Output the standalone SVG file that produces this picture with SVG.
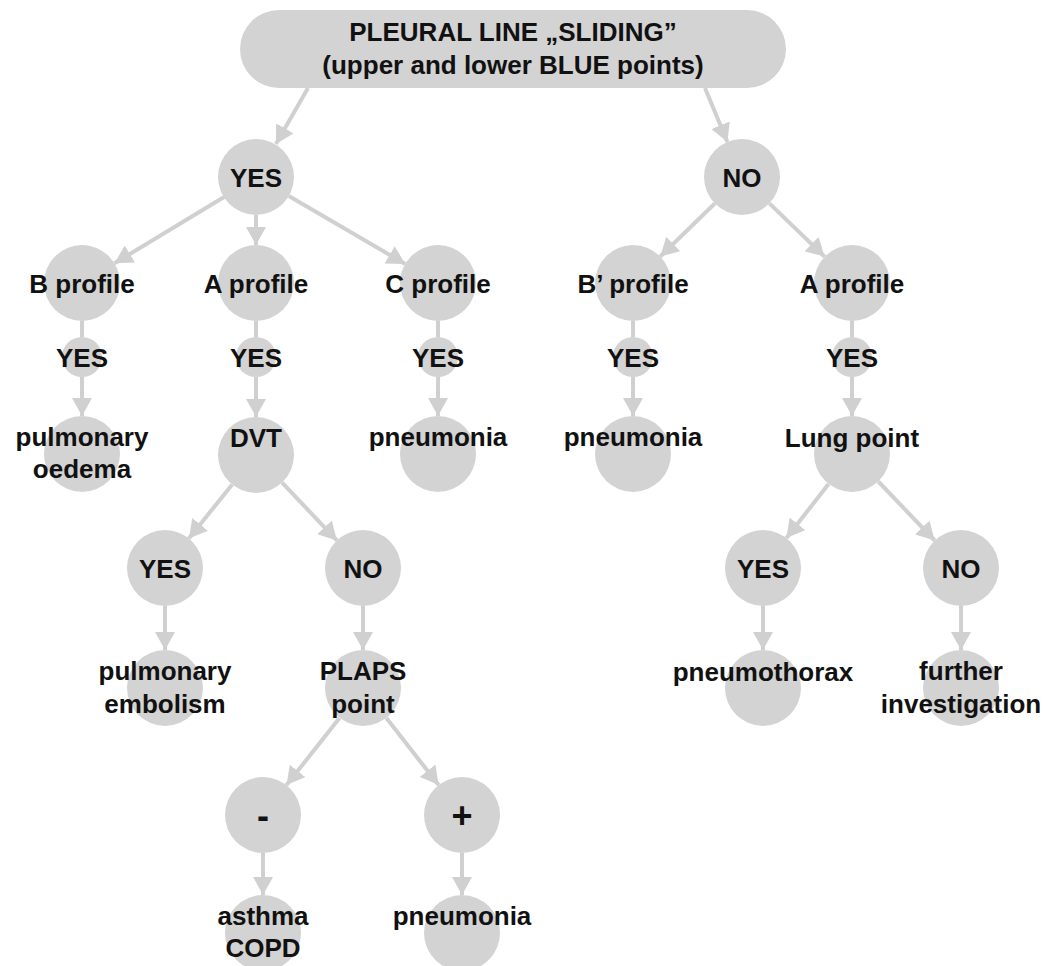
<svg xmlns="http://www.w3.org/2000/svg" width="1043" height="966" viewBox="0 0 1043 966">
<style>
.n{fill:#d3d3d3}
.t{font-family:"Liberation Sans",Arial,sans-serif;font-weight:bold;font-size:26px;fill:#111;text-anchor:middle}
.big{font-size:36px}
.e{stroke:#d0d0d0;stroke-width:4;fill:none}
.a{marker-end:url(#ah)}
</style>
<defs>
<marker id="ah" markerUnits="userSpaceOnUse" markerWidth="20" markerHeight="20" refX="18" refY="10" orient="auto">
<path d="M0,0 L18,10 L0,20 z" fill="#d0d0d0"/>
</marker>
</defs>
<rect width="1043" height="966" fill="#fff"/>
<g id="connectors">
<line class="e a" x1="308" y1="88" x2="275.9" y2="144"/>
<line class="e a" x1="705" y1="88" x2="727.4" y2="141.9"/>
<line class="e a" x1="224.5" y1="196.7" x2="114.5" y2="263.3"/>
<line class="e a" x1="256" y1="215" x2="256" y2="245"/>
<line class="e a" x1="288.8" y1="196.1" x2="405.2" y2="263.9"/>
<line class="e a" x1="714.8" y1="203.5" x2="660.3" y2="256.5"/>
<line class="e a" x1="769.4" y1="203.4" x2="824.6" y2="256.6"/>
<line class="e" x1="82" y1="321" x2="82" y2="337"/>
<line class="e a" x1="82" y1="377" x2="82" y2="416"/>
<line class="e" x1="256" y1="321" x2="256" y2="337"/>
<line class="e a" x1="256" y1="377" x2="256" y2="417"/>
<line class="e" x1="438" y1="321" x2="438" y2="337"/>
<line class="e a" x1="438" y1="377" x2="438" y2="416"/>
<line class="e" x1="633" y1="321" x2="633" y2="337"/>
<line class="e a" x1="633" y1="377" x2="633" y2="416"/>
<line class="e" x1="852" y1="321" x2="852" y2="337"/>
<line class="e a" x1="852" y1="377" x2="852" y2="416"/>
<line class="e a" x1="232.2" y1="484.6" x2="188.8" y2="538.4"/>
<line class="e a" x1="282.1" y1="482.6" x2="336.9" y2="540.4"/>
<line class="e a" x1="165" y1="606" x2="165" y2="650"/>
<line class="e a" x1="363" y1="606" x2="363" y2="650"/>
<line class="e a" x1="339.5" y1="717.9" x2="286.5" y2="785.1"/>
<line class="e a" x1="386.4" y1="718" x2="438.6" y2="785"/>
<line class="e a" x1="263" y1="853" x2="263" y2="895"/>
<line class="e a" x1="462" y1="853" x2="462" y2="895"/>
<line class="e a" x1="828.6" y1="484" x2="786.4" y2="538"/>
<line class="e a" x1="878.3" y1="481.5" x2="934.7" y2="540.5"/>
<line class="e a" x1="763" y1="606" x2="763" y2="650"/>
<line class="e a" x1="961" y1="606" x2="961" y2="650"/>
</g>
<g id="root"><rect class="n" x="240" y="10" width="546" height="78" rx="39"/>
<text class="t" x="513" y="41">PLEURAL LINE „SLIDING”</text>
<text class="t" x="513" y="74">(upper and lower BLUE points)</text></g>
<g id="yes1"><circle class="n" cx="256" cy="177" r="38"/><text class="t" x="256" y="187">YES</text></g>
<g id="no1"><circle class="n" cx="742" cy="177" r="38"/><text class="t" x="742" y="187">NO</text></g>
<g id="bprofile"><circle class="n" cx="82" cy="283" r="38"/><text class="t" x="82" y="293">B profile</text></g>
<g id="aprofile"><circle class="n" cx="256" cy="283" r="38"/><text class="t" x="256" y="293">A profile</text></g>
<g id="cprofile"><circle class="n" cx="438" cy="283" r="38"/><text class="t" x="438" y="293">C profile</text></g>
<g id="bpprofile"><circle class="n" cx="633" cy="283" r="38"/><text class="t" x="633" y="293">B’ profile</text></g>
<g id="aprofile2"><circle class="n" cx="852" cy="283" r="38"/><text class="t" x="852" y="293">A profile</text></g>
<g id="yesB"><circle class="n" cx="82" cy="357" r="20"/><text class="t" x="82" y="367">YES</text></g>
<g id="yesA"><circle class="n" cx="256" cy="357" r="20"/><text class="t" x="256" y="367">YES</text></g>
<g id="yesC"><circle class="n" cx="438" cy="357" r="20"/><text class="t" x="438" y="367">YES</text></g>
<g id="yesBp"><circle class="n" cx="633" cy="357" r="20"/><text class="t" x="633" y="367">YES</text></g>
<g id="yesA2"><circle class="n" cx="852" cy="357" r="20"/><text class="t" x="852" y="367">YES</text></g>
<g id="oedema"><circle class="n" cx="82" cy="454" r="38"/><text class="t" x="82" y="446">pulmonary</text><text class="t" x="82" y="478">oedema</text></g>
<g id="dvt"><circle class="n" cx="256" cy="455" r="38"/><text class="t" x="256" y="447">DVT</text></g>
<g id="pneumoniaC"><circle class="n" cx="438" cy="454" r="38"/><text class="t" x="438" y="446">pneumonia</text></g>
<g id="pneumoniaBp"><circle class="n" cx="633" cy="454" r="38"/><text class="t" x="633" y="446">pneumonia</text></g>
<g id="lungpoint"><circle class="n" cx="852" cy="454" r="38"/><text class="t" x="852" y="447">Lung point</text></g>
<g id="dvtYes"><circle class="n" cx="165" cy="568" r="38"/><text class="t" x="165" y="578">YES</text></g>
<g id="dvtNo"><circle class="n" cx="363" cy="568" r="38"/><text class="t" x="363" y="578">NO</text></g>
<g id="lpYes"><circle class="n" cx="763" cy="568" r="38"/><text class="t" x="763" y="578">YES</text></g>
<g id="lpNo"><circle class="n" cx="961" cy="568" r="38"/><text class="t" x="961" y="578">NO</text></g>
<g id="embolism"><circle class="n" cx="165" cy="688" r="38"/><text class="t" x="165" y="680">pulmonary</text><text class="t" x="165" y="713">embolism</text></g>
<g id="plaps"><circle class="n" cx="363" cy="688" r="38"/><text class="t" x="363" y="680">PLAPS</text><text class="t" x="363" y="713">point</text></g>
<g id="pneumothorax"><circle class="n" cx="763" cy="688" r="38"/><text class="t" x="763" y="681">pneumothorax</text></g>
<g id="further"><circle class="n" cx="961" cy="688" r="38"/><text class="t" x="961" y="680">further</text><text class="t" x="961" y="713">investigation</text></g>
<g id="minus"><circle class="n" cx="263" cy="815" r="38"/><text class="t big" x="263" y="828">-</text></g>
<g id="plus"><circle class="n" cx="462" cy="815" r="38"/><text class="t big" x="462" y="828">+</text></g>
<g id="asthma"><circle class="n" cx="263" cy="933" r="38"/><text class="t" x="263" y="925">asthma</text><text class="t" x="263" y="957">COPD</text></g>
<g id="pneumoniaPlus"><circle class="n" cx="462" cy="933" r="38"/><text class="t" x="462" y="925">pneumonia</text></g>
</svg>
